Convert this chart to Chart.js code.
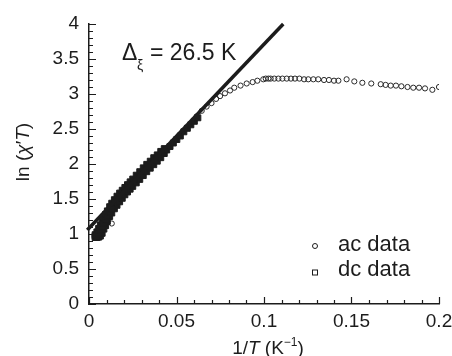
<!DOCTYPE html>
<html>
<head>
<meta charset="utf-8">
<script src="https://cdn.jsdelivr.net/npm/chart.js@4.4.1/dist/chart.umd.min.js"></script>
<style>
  html, body { margin: 0; padding: 0; background: #fff; }
  canvas { display: block; }
</style>
</head>
<body>
<canvas id="chiChart" width="452" height="356"></canvas>
<script>
// ac data (open circles)
const acX = [0.013, 0.030, 0.040, 0.050, 0.056, 0.0615, 0.0644, 0.0672, 0.070, 0.0726,
  0.0749, 0.0777, 0.0806, 0.083, 0.0866, 0.0901, 0.0935, 0.0962, 0.0996, 0.1010,
  0.1025, 0.1038, 0.1059, 0.1082, 0.1105, 0.1130, 0.1154, 0.1177, 0.1202, 0.1229,
  0.1253, 0.1282, 0.1310, 0.1343, 0.1371, 0.1400, 0.1425, 0.1472, 0.1516, 0.1562,
  0.1613, 0.1667, 0.1695, 0.1724, 0.1754, 0.1785, 0.1820, 0.1853, 0.1886, 0.1920,
  0.1962, 0.2000];
const acY = [1.15, 1.84, 2.10, 2.36, 2.52, 2.68, 2.76, 2.82, 2.87, 2.93,
  2.97, 3.01, 3.05, 3.09, 3.12, 3.15, 3.17, 3.19, 3.21, 3.22,
  3.22, 3.22, 3.22, 3.22, 3.22, 3.22, 3.22, 3.22, 3.22, 3.21,
  3.21, 3.21, 3.21, 3.20, 3.20, 3.19, 3.19, 3.21, 3.18, 3.16,
  3.15, 3.14, 3.13, 3.12, 3.12, 3.11, 3.10, 3.09, 3.09, 3.08,
  3.06, 3.10];

// dc data (squares): several overlapping runs make the dense band at low 1/T
const dcX = [
  0.0035, 0.0045, 0.0055, 0.0065, 0.0075, 0.0085, 0.0095, 0.0105, 0.0118, 0.0130,
  0.0145, 0.0160, 0.0175, 0.0190, 0.0205, 0.0220, 0.0235, 0.0250, 0.0270, 0.0290,
  0.0310, 0.0330, 0.0350, 0.0370, 0.0390, 0.0410, 0.0430,
  0.0035, 0.0045, 0.0055, 0.0065, 0.0075, 0.0085, 0.0095, 0.0105, 0.0118, 0.0130,
  0.0145, 0.0160, 0.0175, 0.0190, 0.0205, 0.0220, 0.0235, 0.0250, 0.0270, 0.0290,
  0.0310, 0.0330, 0.0350, 0.0370, 0.0390, 0.0410, 0.0430,
  0.0035, 0.0045, 0.0055, 0.0065, 0.0075, 0.0085, 0.0095, 0.0105, 0.0118, 0.0130,
  0.0444, 0.0463, 0.0482, 0.0502, 0.0522, 0.0542, 0.0562, 0.0582, 0.0602, 0.0622];
const dcY = [
  0.99, 1.03, 1.08, 1.13, 1.18, 1.23, 1.28, 1.33, 1.39, 1.44,
  1.49, 1.54, 1.585, 1.625, 1.665, 1.705, 1.745, 1.785, 1.84, 1.89,
  1.945, 1.995, 2.04, 2.09, 2.13, 2.18, 2.22,
  0.95, 0.95, 0.955, 0.97, 1.01, 1.07, 1.12, 1.18, 1.25, 1.30,
  1.36, 1.41, 1.46, 1.51, 1.56, 1.60, 1.64, 1.68, 1.73, 1.78,
  1.835, 1.89, 1.94, 1.99, 2.04, 2.09, 2.15,
  0.97, 0.98, 1.01, 1.05, 1.10, 1.15, 1.20, 1.25, 1.31, 1.36,
  2.20, 2.25, 2.30, 2.35, 2.40, 2.46, 2.51, 2.56, 2.61, 2.66];

// fitted line, delta = 26.5 K
const fitX = [-0.001, 0.111];
const fitY = [1.057, 4.0];

const xTicks = [0, 0.05, 0.1, 0.15, 0.2];
const yTicks = [0, 0.5, 1, 1.5, 2, 2.5, 3, 3.5, 4];

const ink = '#1c1c1c';
const FONT = '"Liberation Sans", Arial, Helvetica, sans-serif';

function toPoints(xs, ys) {
  return xs.map((x, i) => ({ x: x, y: ys[i] }));
}

// draw a run of text pieces with different styles
function drawRuns(ctx, runs, x, y) {
  let cx = x;
  runs.forEach(r => {
    ctx.font = r.font;
    ctx.fillText(r.t, cx, y + (r.dy || 0));
    cx += ctx.measureText(r.t).width;
  });
  return cx - x;
}
function runsWidth(ctx, runs) {
  let w = 0;
  runs.forEach(r => { ctx.font = r.font; w += ctx.measureText(r.t).width; });
  return w;
}

const extras = {
  id: 'extras',
  afterDraw(chart) {
    const ctx = chart.ctx;
    const xs = chart.scales.x, ys = chart.scales.y;
    const area = chart.chartArea;
    ctx.save();
    ctx.strokeStyle = ink;
    ctx.lineWidth = 1.2;
    // inward ticks, minor every 0.01 / 0.1
    ctx.beginPath();
    for (let i = 0; i <= 20; i++) {
      const px = Math.round(xs.getPixelForValue(i / 100)) + 0.5;
      const len = i % 5 === 0 ? 7 : 4;
      ctx.moveTo(px, area.bottom);
      ctx.lineTo(px, area.bottom - len);
    }
    for (let i = 0; i <= 40; i++) {
      const py = Math.round(ys.getPixelForValue(i / 10)) + 0.5;
      const len = i % 5 === 0 ? 7 : 4;
      ctx.moveTo(area.left, py);
      ctx.lineTo(area.left + len, py);
    }
    ctx.stroke();

    ctx.fillStyle = ink;
    ctx.textBaseline = 'alphabetic';
    ctx.textAlign = 'left';

    // annotation
    ctx.font = '23px ' + FONT;
    ctx.fillText('\u0394', 122, 60);
    ctx.font = '14px ' + FONT;
    ctx.fillText('\u03BE', 137, 70);
    ctx.font = '23px ' + FONT;
    ctx.fillText('= 26.5 K', 150, 60);

    // legend
    ctx.lineWidth = 1;
    ctx.beginPath();
    ctx.arc(315, 246, 2.5, 0, Math.PI * 2);
    ctx.stroke();
    ctx.strokeRect(312.5, 270, 5, 5);
    ctx.textBaseline = 'middle';
    ctx.font = '22px ' + FONT;
    ctx.fillText('ac data', 338, 245);
    ctx.fillText('dc data', 338, 270);

    // x title: 1/T (K^-1)
    ctx.textBaseline = 'alphabetic';
    const f = '19px ' + FONT, fi = 'italic 19px ' + FONT, fs = '12px ' + FONT;
    const xRuns = [
      { t: '1/', font: f }, { t: 'T', font: fi }, { t: ' (K', font: f },
      { t: '\u22121', font: fs, dy: -8 }, { t: ')', font: f }
    ];
    const xw = runsWidth(ctx, xRuns);
    drawRuns(ctx, xRuns, 268 - xw / 2, 354);

    // y title: ln (chi' T), rotated
    const yRuns = [
      { t: 'ln (', font: f }, { t: '\u03C7', font: fi }, { t: '\u2032', font: f },
      { t: 'T', font: fi }, { t: ')', font: f }
    ];
    const yw = runsWidth(ctx, yRuns);
    ctx.translate(29, 152);
    ctx.rotate(-Math.PI / 2);
    drawRuns(ctx, yRuns, -yw / 2, 0);
    ctx.restore();
  }
};

const tickFmt = v => String(parseFloat(Number(v).toFixed(3)));

new Chart(document.getElementById('chiChart'), {
  type: 'scatter',
  data: {
    datasets: [
      {
        label: 'fit',
        data: toPoints(fitX, fitY),
        showLine: true,
        borderColor: ink,
        borderWidth: 3.5,
        pointRadius: 0,
        clip: false,
        order: 0
      },
      {
        label: 'dc data',
        data: toPoints(dcX, dcY),
        pointStyle: 'rect',
        pointRadius: 4.2,
        borderColor: ink,
        backgroundColor: ink,
        borderWidth: 1,
        order: 1
      },
      {
        label: 'ac data',
        data: toPoints(acX, acY),
        pointStyle: 'circle',
        pointRadius: 2.6,
        borderColor: '#2a2a2a',
        backgroundColor: 'rgba(0,0,0,0)',
        borderWidth: 1,
        order: 2
      }
    ]
  },
  options: {
    responsive: false,
    animation: false,
    layout: { padding: { left: 0, right: 13, top: 24, bottom: 0 } },
    plugins: {
      legend: { display: false },
      tooltip: { enabled: false }
    },
    scales: {
      x: {
        type: 'linear',
        min: 0,
        max: 0.2,
        afterBuildTicks: s => { s.ticks = xTicks.map(v => ({ value: v })); },
        afterFit: s => { s.height = 52; s.paddingRight = 0; s.paddingLeft = 0; },
        grid: { display: false, drawTicks: false },
        border: { display: true, color: ink, width: 1.5 },
        ticks: {
          callback: tickFmt,
          color: ink,
          padding: 6,
          maxRotation: 0,
          font: { family: FONT, size: 19 }
        }
      },
      y: {
        type: 'linear',
        min: 0,
        max: 4,
        afterBuildTicks: s => { s.ticks = yTicks.map(v => ({ value: v })); },
        afterFit: s => { s.width = 89; },
        grid: { display: false, drawTicks: false },
        border: { display: true, color: ink, width: 1.5 },
        ticks: {
          callback: tickFmt,
          color: ink,
          padding: 10,
          font: { family: FONT, size: 19 }
        }
      }
    }
  },
  plugins: [extras]
});
</script>
</body>
</html>
